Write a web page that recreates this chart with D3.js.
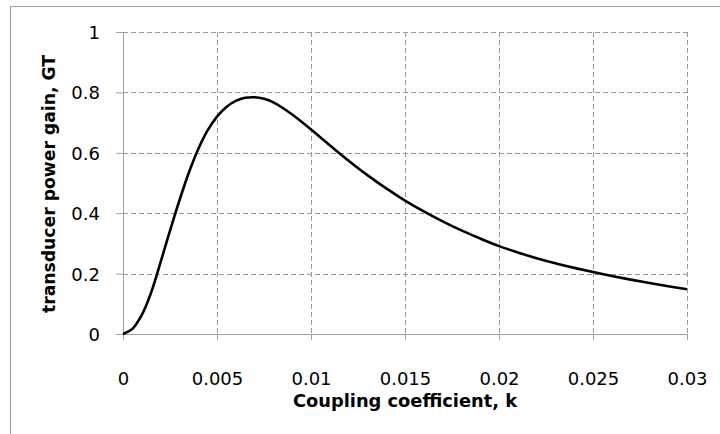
<!DOCTYPE html>
<html>
<head>
<meta charset="utf-8">
<script src="https://cdn.jsdelivr.net/npm/d3@7"></script>
<style>
  body { margin: 0; background: #fff; }
  svg { display: block; }
  text { font-family: "DejaVu Sans", sans-serif; fill: #000; }
</style>
</head>
<body>
<div id="chart"></div>
<script>
// values
const kValues = [0, 0.0005, 0.001, 0.0015, 0.002, 0.0025, 0.003, 0.0035, 0.004, 0.0045,
  0.005, 0.0055, 0.006, 0.0065, 0.007, 0.0075, 0.008, 0.009, 0.01, 0.011, 0.012,
  0.013, 0.014, 0.015, 0.016, 0.017, 0.018, 0.019, 0.02, 0.021, 0.022, 0.023,
  0.024, 0.025, 0.026, 0.027, 0.028, 0.029, 0.03]
const gainValues = [0, 0.017, 0.063, 0.138, 0.238, 0.342, 0.442, 0.534, 0.612, 0.674,
  0.72, 0.752, 0.772, 0.782, 0.784, 0.779, 0.767, 0.727, 0.677, 0.625, 0.574,
  0.526, 0.482, 0.442, 0.406, 0.373, 0.343, 0.316, 0.291, 0.270, 0.251, 0.234,
  0.219, 0.205, 0.192, 0.180, 0.169, 0.158, 0.148]
const xTicks = [0, 0.005, 0.01, 0.015, 0.02, 0.025, 0.03]
const xTickLabels = ["0", "0.005", "0.01", "0.015", "0.02", "0.025", "0.03"]
const yTicks = [0, 0.2, 0.4, 0.6, 0.8, 1]
const yTickLabels = ["0", "0.2", "0.4", "0.6", "0.8", "1"]

const width = 720, height = 434
const margin = {top: 32, right: 33, bottom: 100, left: 123}
const innerW = width - margin.left - margin.right
const innerH = height - margin.top - margin.bottom

const svg = d3.select("#chart").append("svg")
    .attr("width", width)
    .attr("height", height)

// chart area border (only left and top fall inside the picture)
svg.append("rect")
    .attr("x", 10.5).attr("y", 6.5)
    .attr("width", 800).attr("height", 800)
    .attr("fill", "none")
    .attr("stroke", "#a0a0a0")
    .attr("stroke-width", 1)

const g = svg.append("g")
    .attr("transform", `translate(${margin.left},${margin.top})`)

const x = d3.scaleLinear().domain([0, 0.03]).range([0, innerW])
const y = d3.scaleLinear().domain([0, 1]).range([innerH, 0])

// dashed grid
g.append("g").selectAll("line")
    .data(yTicks.filter(d => d > 0))
    .join("line")
    .attr("x1", 0).attr("x2", innerW)
    .attr("y1", d => Math.round(y(d)) + 0.5).attr("y2", d => Math.round(y(d)) + 0.5)
    .attr("stroke", "#999").attr("stroke-dasharray", "5,3")

g.append("g").selectAll("line")
    .data(xTicks.filter(d => d > 0))
    .join("line")
    .attr("x1", d => Math.round(x(d)) + 0.5).attr("x2", d => Math.round(x(d)) + 0.5)
    .attr("y1", 0).attr("y2", innerH)
    .attr("stroke", "#999").attr("stroke-dasharray", "5,3")

// axes
const xAxis = d3.axisBottom(x).tickValues(xTicks).tickSize(6)
    .tickFormat((d, i) => xTickLabels[i])
const yAxis = d3.axisLeft(y).tickValues(yTicks).tickSize(7)
    .tickFormat((d, i) => yTickLabels[i])

const xg = g.append("g")
    .attr("transform", `translate(0,${innerH})`)
    .call(xAxis)
xg.select(".domain").attr("stroke", "#a0a0a0").attr("d", `M0.5,0.5H${innerW}`)
xg.selectAll(".tick line").attr("stroke", "#a0a0a0")
xg.selectAll(".tick text")
    .attr("y", 0).attr("dy", 0)
    .attr("transform", "translate(0,51)")
    .style("font-size", "18px")
    .style("font-family", "DejaVu Sans, sans-serif")

const yg = g.append("g").call(yAxis)
yg.select(".domain").attr("stroke", "#a0a0a0").attr("d", `M0.5,0V${innerH}`)
yg.selectAll(".tick line").attr("stroke", "#a0a0a0")
yg.selectAll(".tick text")
    .attr("x", -23).attr("dy", "0.36em")
    .style("font-size", "18px")
    .style("font-family", "DejaVu Sans, sans-serif")

// the curve
const line = d3.line()
    .curve(d3.curveCatmullRom.alpha(0.5))
    .x((d, i) => x(kValues[i]))
    .y(d => y(d))

g.append("path")
    .datum(gainValues)
    .attr("d", line)
    .attr("fill", "none")
    .attr("stroke", "#000")
    .attr("stroke-width", 2.6)

// axis titles
svg.append("text")
    .attr("x", 405).attr("y", 407)
    .attr("text-anchor", "middle")
    .attr("textLength", 224)
    .attr("lengthAdjust", "spacingAndGlyphs")
    .style("font-size", "18px")
    .style("font-weight", "bold")
    .text("Coupling coefficient, k")

svg.append("text")
    .attr("transform", "translate(55,184) rotate(-90)")
    .attr("text-anchor", "middle")
    .attr("textLength", 258)
    .attr("lengthAdjust", "spacingAndGlyphs")
    .style("font-size", "18px")
    .style("font-weight", "bold")
    .text("transducer power gain, GT")
</script>
</body>
</html>
